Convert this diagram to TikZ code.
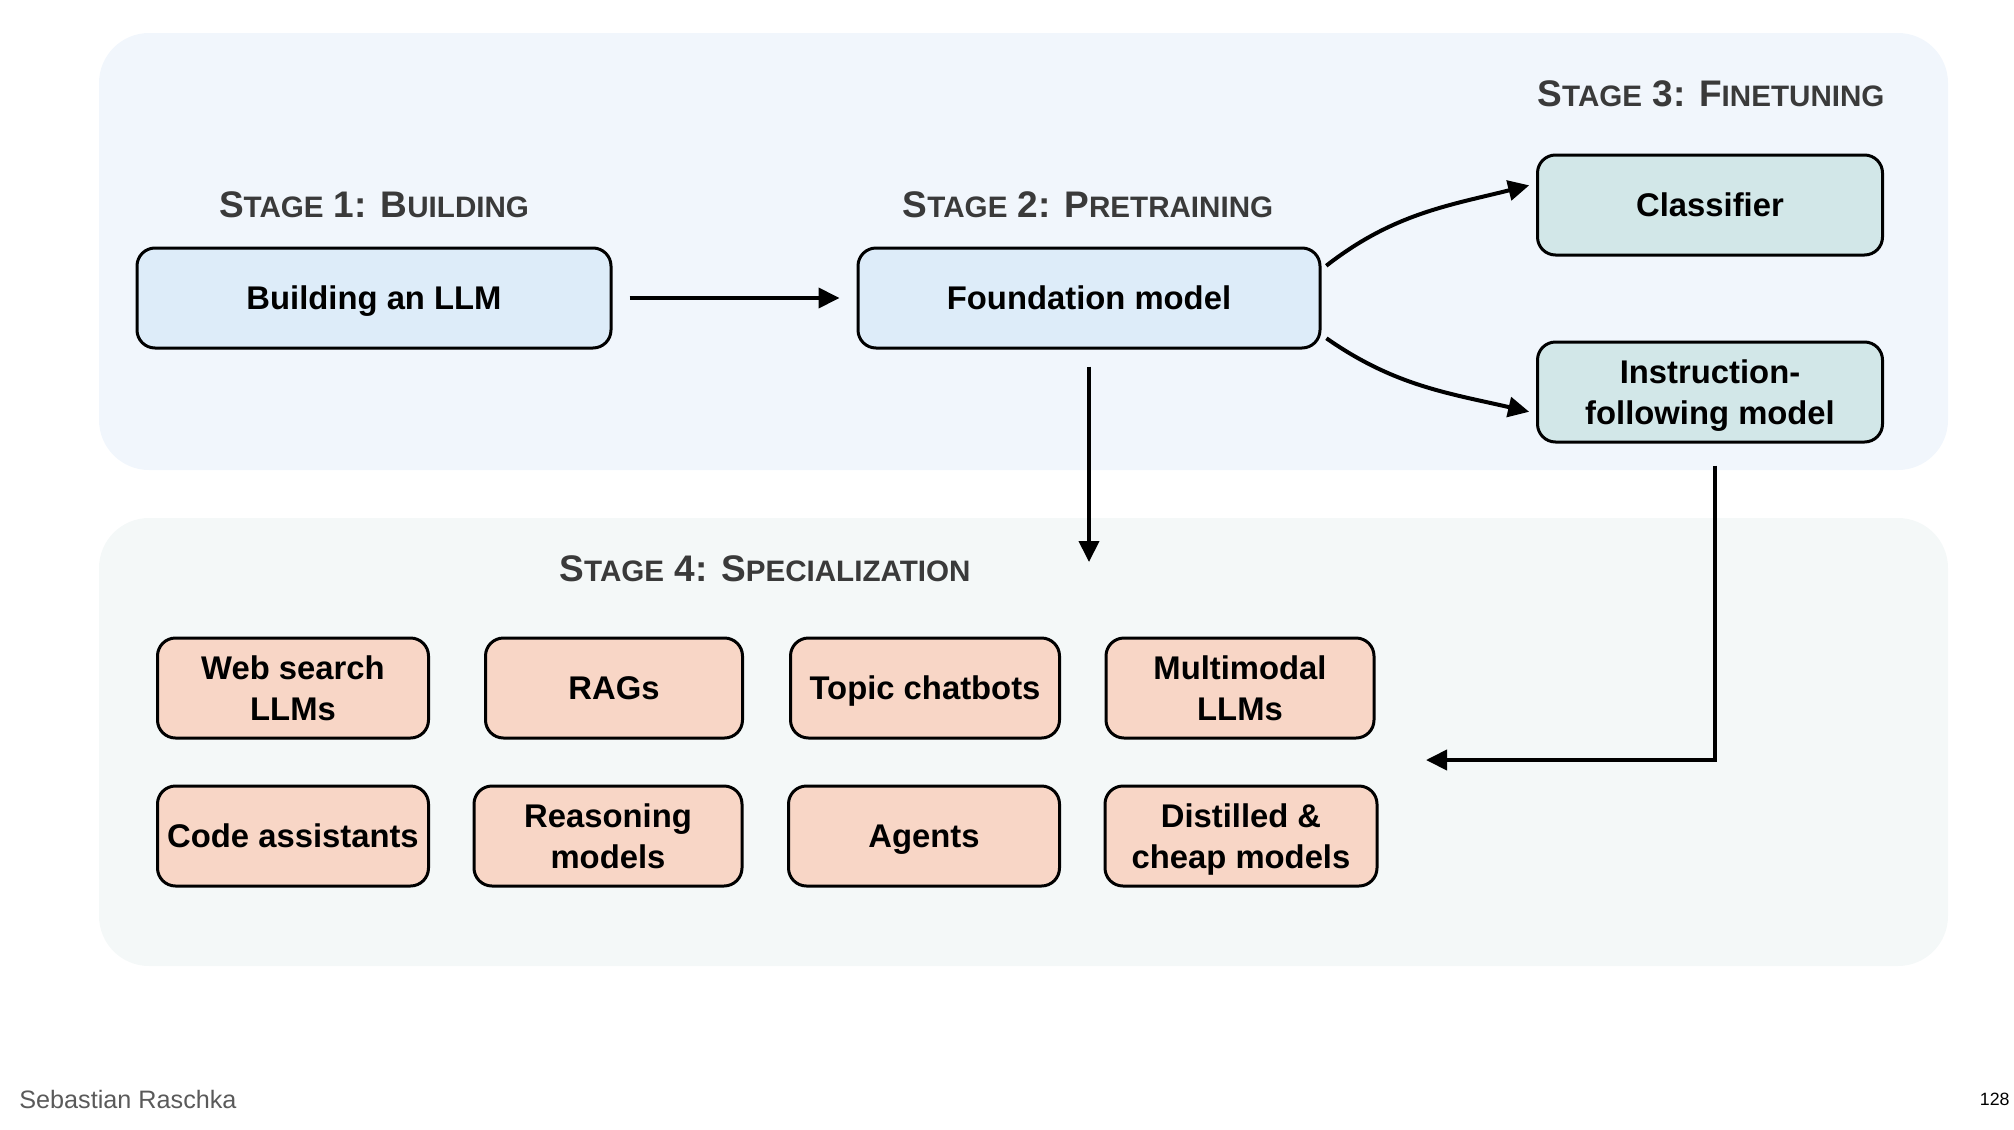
\documentclass[tikz,border=0pt]{standalone}
\usepackage{fontspec}
\setmainfont{Liberation Sans}
\usetikzlibrary{positioning,arrows.meta,calc}
\definecolor{panelblue}{RGB}{241,246,252}
\definecolor{panelgrey}{RGB}{244,248,248}
\definecolor{boxblue}{RGB}{221,236,249}
\definecolor{boxteal}{RGB}{210,231,232}
\definecolor{boxpeach}{RGB}{248,214,198}
\definecolor{titlegrey}{RGB}{58,58,58}
\definecolor{footgrey}{RGB}{90,90,90}
\newcommand{\smcap}[1]{{\fontsize{14.8pt}{14.8pt}\selectfont #1}}

\begin{document}
\begin{tikzpicture}[
  x=0.5pt, y=0.5pt,
  font=\bfseries\fontsize{16.4pt}{20.5pt}\selectfont,
  model/.style={rectangle, rounded corners=9pt, draw=black, line width=1.5pt,
    minimum height=50pt, align=center, inner xsep=2pt, inner ysep=3pt, text=black,
    text depth=0pt},
  oneline/.style={text height=11.8pt},
  base/.style={model, fill=boxblue},
  tuned/.style={model, fill=boxteal, minimum width=172.5pt},
  special/.style={model, fill=boxpeach},
  stagelabel/.style={font=\bfseries\fontsize{18.5pt}{18.5pt}\selectfont, text=titlegrey},
  flow/.style={-{Triangle[length=10.5pt, width=10pt]}, draw=black, line width=2pt,
    shorten <=8.5pt, shorten >=8.5pt},
]
\useasboundingbox (0,0) rectangle (2014,-1130);

% ---- panels ----
\fill[panelblue, rounded corners=25pt] (99,-33) rectangle (1948,-470);
\fill[panelgrey, rounded corners=25pt] (99,-518) rectangle (1948,-966);

% ---- stages 1 to 3 ----
\node[base, oneline, minimum width=237pt] (build) at (374,-298) {Building an LLM};
\node[base, oneline, minimum width=231pt] (found) at (1089,-298) {Foundation model};
\node[tuned, oneline] (cls) at (1710,-205) {Classifier};
\node[tuned] (inst) at (1710,-392) {Instruction-\\following model};

\node[stagelabel] (stage1) at (374,-205) {S\smcap{TAGE} 1: B\smcap{UILDING}};
\node[stagelabel] (stage2) at (1088,-205) {S\smcap{TAGE} 2: P\smcap{RETRAINING}};
\node[stagelabel] (stage3) at (1711,-94) {S\smcap{TAGE} 3: F\smcap{INETUNING}};

% ---- stage 4 ----
\node[stagelabel] (stage4) at (765,-569) {S\smcap{TAGE} 4: S\smcap{PECIALIZATION}};

\node[special, minimum width=135.5pt] (web) at (293,-688) {Web search\\LLMs};
\node[special, oneline, minimum width=128.5pt] (rags) at (614,-688) {RAGs};
\node[special, oneline, minimum width=134.5pt] (topic) at (925,-688) {Topic chatbots};
\node[special, minimum width=134pt] (multi) at (1240,-688) {Multimodal\\LLMs};

\node[special, oneline, minimum width=135.5pt] (code) at (293,-836) {Code assistants};
\node[special, minimum width=134pt] (reason) at (608,-836) {Reasoning\\models};
\node[special, oneline, minimum width=135.5pt] (agents) at (924,-836) {Agents};
\node[special, minimum width=136pt] (distill) at (1241,-836) {Distilled \&\\cheap models};

% ---- connectors ----
\coordinate (drop) at (1089,-562);
\coordinate (merge) at (1426,-760);

\draw[flow] (build) -- (found);
\draw[flow, shorten <=3pt, shorten >=3.5pt] (found.7) to[out=38, in=194] (cls.173);
\draw[flow, shorten <=3pt, shorten >=3.5pt] (found.-9) to[out=-35, in=167] (inst.187);
\draw[flow, shorten >=0pt] (found) -- (drop);
\draw[flow, shorten <=11pt, shorten >=0pt] ([xshift=2.5pt]inst.south) |- (merge);

% ---- footer ----
\node[font=\mdseries\fontsize{12.6pt}{12.6pt}\selectfont, text=footgrey, anchor=west,
  inner sep=0pt] (author) at (19,-1099) {Sebastian Raschka};
\node[font=\mdseries\fontsize{8.9pt}{8.9pt}\selectfont, text=black, anchor=east,
  inner sep=0pt] (page) at (2010,-1099) {128};

\end{tikzpicture}
\end{document}
